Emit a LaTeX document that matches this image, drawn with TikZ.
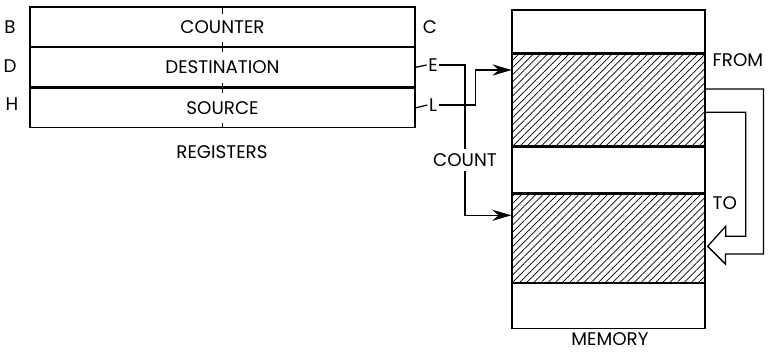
\documentclass[tikz,border=0pt]{standalone}
\usepackage{fontspec}
\setmainfont{Poppins}
\usetikzlibrary{arrows.meta, positioning, calc, patterns.meta}
\newcommand{\regfont}{\fontsize{13}{15}\selectfont}

\begin{document}
\begin{tikzpicture}[x=0.025cm, y=-0.025cm,
  >={Stealth[length=4.8mm, width=2.8mm, inset=1.6mm]},
  reg/.style={draw, line width=0.9pt, minimum width=9.625cm, minimum height=0.983cm,
    inner sep=0pt, font=\regfont},
  cell/.style={draw, line width=0.9pt, minimum width=4.825cm, minimum height=#1,
    inner sep=0pt},
  hatched/.style={pattern={Lines[angle=45, distance=3.6pt, line width=0.5pt]}},
  lbl/.style={font=\regfont, inner sep=1pt},
  wire/.style={line width=0.9pt},
  arr/.style={->, line width=0.9pt},
  hollow/.style={line width=0.9pt, line join=miter},
]

\useasboundingbox (0,0) rectangle (770,351);

% =============================================
% Registers
% =============================================
\node[reg] (counter) at (222.5,26.7) {COUNTER};
\node[reg, below=0pt of counter] (dest) {DESTINATION};
\node[reg, below=0pt of dest] (src) {SOURCE};

% half-register ticks
\draw[wire] (counter.north) -- ++(0,8);
\draw[wire] ($(counter.south)+(0,-5)$) -- ++(0,10);
\draw[wire] ($(dest.south)+(0,-5)$) -- ++(0,10);
\draw[wire] (src.south) -- ++(0,-5);

\node[lbl] (b) at (10,27) {B};
\node[lbl] (d) at (10,66) {D};
\node[lbl] (h) at (12,104) {H};
\node[lbl] (c) at (430,27) {C};
\node[lbl] (e) at (433,65) {E};
\node[lbl] (l) at (433,105) {L};

\node[lbl] (regs) at (222,152) {REGISTERS};

\draw[wire] (dest.east) -- (e.west);
\draw[wire] (src.east) -- (l.west);

% =============================================
% Memory
% =============================================
\node[cell=1.075cm] (m1) at (608.5,31.5) {};
\node[cell=2.3cm, hatched, below=0pt of m1] (from) {};
\node[cell=1.15cm, below=0pt of from] (m3) {};
\node[cell=2.2cm, hatched, below=0pt of m3] (to) {};
\node[cell=1.125cm, below=0pt of to] (m5) {};

\node[lbl] (mem) at (610,339) {MEMORY};
\node[lbl, anchor=west] (fromlbl) at (711,60) {FROM};
\node[lbl, anchor=west] (tolbl) at (711,203) {TO};

% =============================================
% Pointers and count
% =============================================
\coordinate (fromin) at ($(from.west)+(0,-30)$);
\coordinate (toin) at ($(to.west)+(0,-23)$);

\node[lbl, inner sep=3pt] (count) at (465,160) {COUNT};

\draw[wire] (e.east) -| (count.north);
\draw[arr] (count.south) |- (toin);
\draw[arr] (l.east) -- ++(37,0) |- (fromin);

% block move arrow
\draw[hollow] ($(from.east)+(0,-11)$) -- ++(58,0) -- ++(0,165) -- ++(-38,0)
  -- ++(0,10) -- ($(to.east)+(2,8)$) -- ++(18,-20) -- ++(0,10) -- ++(20,0)
  -- ++(0,-124) -- ++(-40,0);

\end{tikzpicture}
\end{document}
